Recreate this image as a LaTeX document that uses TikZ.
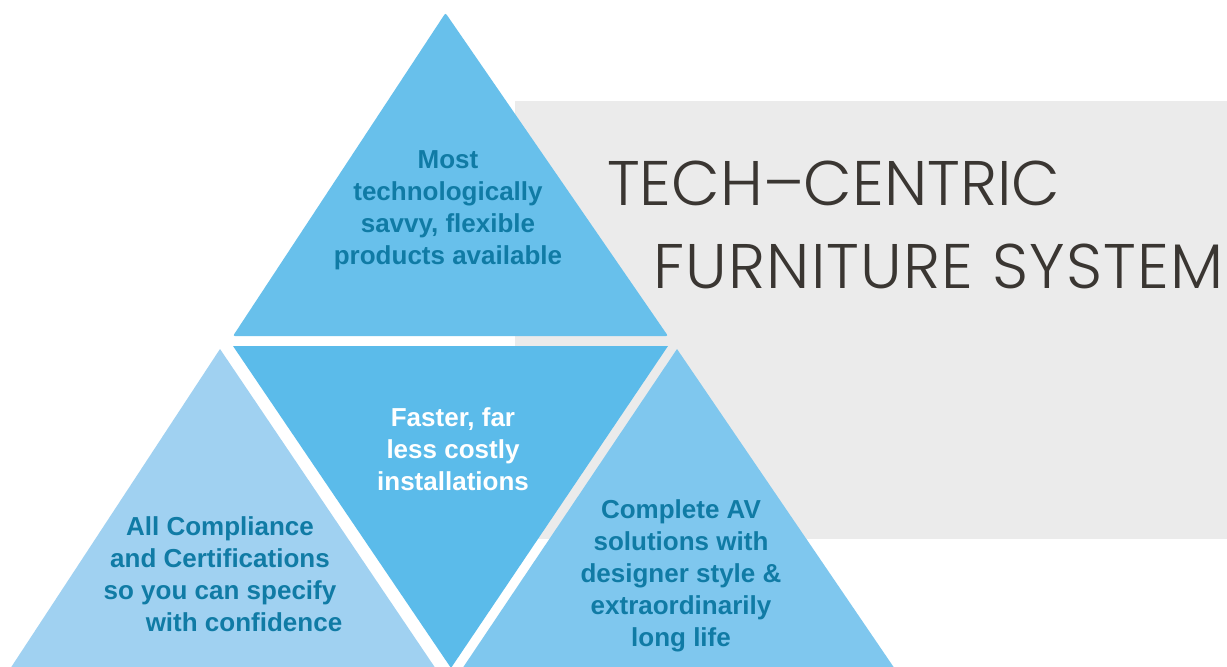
\documentclass[tikz,border=0pt]{standalone}
\usepackage{fontspec}
\setmainfont{Liberation Sans}
\newfontfamily\titlefont{Poppins Light}
\definecolor{topblue}{HTML}{68C0EB}
\definecolor{midblue}{HTML}{5BBBEA}
\definecolor{leftblue}{HTML}{A0D1F1}
\definecolor{rightblue}{HTML}{7FC7EE}
\definecolor{panelgray}{HTML}{EBEBEB}
\definecolor{tealtext}{HTML}{107BA5}
\definecolor{titlegray}{HTML}{3A3632}
\begin{document}
\begin{tikzpicture}[x=1pt,y=-1pt,
  label/.style={font=\fontsize{26}{32}\selectfont\bfseries, align=center, inner sep=0pt, text=tealtext},
  title/.style={font=\fontsize{63}{70}\selectfont\titlefont, text=titlegray, inner sep=0pt, anchor=base west}]
\useasboundingbox (0,0) rectangle (1227,667);
\fill[white] (0,0) rectangle (1227,667);
\fill[panelgray] (515,101) rectangle (1227,539);
% triangles
\fill[topblue, rounded corners=2pt] (233,336) -- (445.5,13) -- (668,336) -- cycle;
\fill[midblue] (233,346) -- (668,346) -- (451,668) -- cycle;
\fill[leftblue] (220,349) -- (438,672) -- (8,672) -- cycle;
\fill[rightblue] (677,349) -- (897,672) -- (460,672) -- cycle;
% texts
\node[label] (ttop) at (448,210) {Most\\technologically\\savvy, flexible\\products available};
\node[label, text=white] (tmid) at (453,449) {Faster, far\\less costly\\installations};
\node[label] (tleft) at (220,574) {All Compliance\\and Certifications\\so you can specify\\\hspace*{48pt}with confidence};
\node[label] (tright) at (681,576) {Complete AV\\solutions with\\designer style \&\\extraordinarily\\long life};
\node[title] (title1) at (607,205) {TECH–CENTRIC};
\node[title] (title2) at (653,288) {\addfontfeature{LetterSpace=2}FURNITURE SYSTEM};
\end{tikzpicture}
\end{document}
